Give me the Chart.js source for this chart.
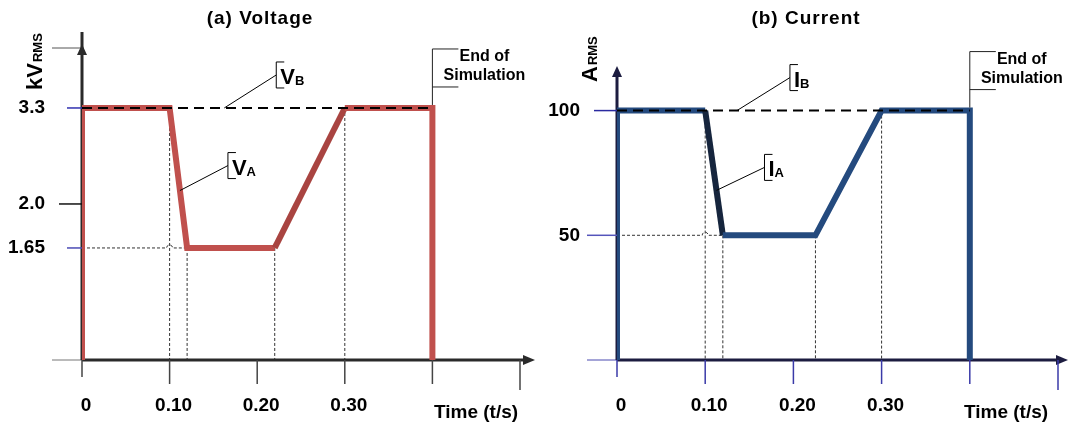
<!DOCTYPE html>
<html>
<head>
<meta charset="utf-8">
<script src="https://cdn.jsdelivr.net/npm/chart.js@4.4.1/dist/chart.umd.min.js"></script>
<style>
  html, body { margin: 0; padding: 0; background: #fff; }
  #wrap { position: relative; width: 1070px; height: 424px; overflow: hidden; }
  #wrap canvas { position: absolute; top: 0; }
</style>
</head>
<body>
<div id="wrap">
  <canvas id="cv" width="535" height="424" style="left:0"></canvas>
  <canvas id="ci" width="535" height="424" style="left:535px"></canvas>
</div>
<script>
// Sag profile: time breakpoints (s) and RMS levels
const voltageTime = [0, 0, 0.10, 0.12, 0.22, 0.30, 0.40, 0.40];
const voltageKV   = [0, 3.3, 3.3, 1.65, 1.65, 3.3, 3.3, 0];
const voltageBase = 3.3;

const currentTime = [0, 0, 0.10, 0.12, 0.225, 0.30, 0.40, 0.40];
const currentA    = [0, 100, 100, 50, 50, 100, 100, 0];
const currentBase = 100;

const timeTicks      = [0, 0.1, 0.2, 0.3, 0.4, 0.5];
const timeTickLabels = ['0', '0.10', '0.20', '0.30', '', ''];
const voltageTicks      = [1.65, 2.0, 3.3];
const voltageTickLabels = ['1.65', '2.0', '3.3'];
const currentTicks      = [50, 100];
const currentTickLabels = ['50', '100'];

const FONT = "'Liberation Sans', Arial, sans-serif";

// Linear scale with a piecewise (schematic) value warp
class WarpedScale extends Chart.LinearScale {
  _map(v, from, to) {
    const k = this.options.knots;
    if (!k || v === null || v === undefined) return v;
    let i = 1;
    while (i < k.length - 1 && v > k[i][from]) i++;
    const a = k[i - 1], b = k[i];
    return a[to] + (v - a[from]) * (b[to] - a[to]) / (b[from] - a[from]);
  }
  getPixelForValue(v, index) { return super.getPixelForValue(this._map(v, 0, 1), index); }
  getValueForPixel(p) { return this._map(super.getValueForPixel(p), 1, 0); }
}
WarpedScale.id = 'warped';
WarpedScale.defaults = Chart.LinearScale.defaults;
Chart.register(WarpedScale);

const zip = (xs, ys) => xs.map((x, i) => ({ x, y: ys[i] }));

function arrowHead(ctx, tipX, tipY, dir, len, half) {
  ctx.beginPath();
  if (dir === 'right') {
    ctx.moveTo(tipX, tipY); ctx.lineTo(tipX - len, tipY - half); ctx.lineTo(tipX - len, tipY + half);
  } else {
    ctx.moveTo(tipX, tipY); ctx.lineTo(tipX - half, tipY + len); ctx.lineTo(tipX + half, tipY + len);
  }
  ctx.closePath(); ctx.fill();
}

function lerpPt(meta, seg, f) {
  const a = meta.data[seg], b = meta.data[seg + 1];
  return { x: a.x + (b.x - a.x) * f, y: a.y + (b.y - a.y) * f };
}

function noPad(s) { s.paddingLeft = 0; s.paddingRight = 0; s.paddingTop = 0; s.paddingBottom = 0; }

const decor = {
  id: 'decor',
  beforeDatasetsDraw(chart, args, o) {
    const { ctx, scales: { x, y } } = chart;
    const x0 = x.getPixelForValue(0), y0 = y.getPixelForValue(0);
    const pts = chart.getDatasetMeta(0).data;
    ctx.save();

    // dashed guides from the profile corners
    ctx.strokeStyle = '#333'; ctx.lineWidth = 1; ctx.setLineDash([3, 2]);
    for (let i = 2; i <= 5; i++) {
      ctx.beginPath(); ctx.moveTo(pts[i].x, pts[i].y); ctx.lineTo(pts[i].x, y0); ctx.stroke();
    }
    const hy = pts[3].y, hopX = pts[2].x, r = 3;
    ctx.beginPath();
    ctx.moveTo(x0, hy); ctx.lineTo(hopX - r, hy);
    ctx.arc(hopX, hy, r, Math.PI, 0, false);
    ctx.lineTo(pts[3].x, hy);
    ctx.stroke();
    ctx.setLineDash([]);

    // x axis
    ctx.strokeStyle = o.thinColor; ctx.lineWidth = 1;
    ctx.beginPath(); ctx.moveTo(x0 - 30, y0); ctx.lineTo(x0, y0); ctx.stroke();
    ctx.strokeStyle = o.axisColor; ctx.fillStyle = o.axisColor; ctx.lineWidth = 3;
    ctx.beginPath(); ctx.moveTo(x0, y0); ctx.lineTo(o.xEnd - 8, y0); ctx.stroke();
    arrowHead(ctx, o.xEnd, y0, 'right', 12, 5);

    // x tick marks
    ctx.strokeStyle = o.tickColor; ctx.lineWidth = 1.5;
    timeTicks.forEach((t, i) => {
      const px = x.getPixelForValue(t);
      const len = i === 0 ? 17 : (i === timeTicks.length - 1 ? 30 : 24);
      ctx.beginPath(); ctx.moveTo(px, y0); ctx.lineTo(px, y0 + len); ctx.stroke();
    });

    // y axis
    ctx.strokeStyle = o.axisColor; ctx.fillStyle = o.axisColor; ctx.lineWidth = 3;
    ctx.beginPath(); ctx.moveTo(x0, y0); ctx.lineTo(x0, o.yLineTop); ctx.stroke();
    arrowHead(ctx, x0, o.yArrow, 'up', 11, 5);
    if (o.topMark) {
      ctx.strokeStyle = '#555'; ctx.lineWidth = 1;
      ctx.beginPath(); ctx.moveTo(x0 - 30, o.topMark); ctx.lineTo(x0 - 2, o.topMark); ctx.stroke();
    }

    // y tick marks
    o.yTickLen.forEach((len, i) => {
      const py = y.getPixelForValue(o.yTicks[i]);
      ctx.strokeStyle = o.yTickColor[i]; ctx.lineWidth = 1.5;
      ctx.beginPath(); ctx.moveTo(x0 - len, py); ctx.lineTo(x0, py); ctx.stroke();
    });
    ctx.restore();
  },
  afterDatasetsDraw(chart, args, o) {
    const { ctx } = chart;
    ctx.save();
    ctx.fillStyle = '#000'; ctx.strokeStyle = '#000'; ctx.lineWidth = 1;

    // labelled leaders
    o.callouts.forEach(c => {
      const p = lerpPt(chart.getDatasetMeta(c.ds), c.seg, c.f);
      const bx = p.x + c.dx, by = p.y + c.dy;
      ctx.beginPath();
      ctx.moveTo(p.x, p.y); ctx.lineTo(bx, by);
      ctx.moveTo(bx + 8, by - 13); ctx.lineTo(bx, by - 13); ctx.lineTo(bx, by + 13); ctx.lineTo(bx + 8, by + 13);
      ctx.stroke();
      ctx.textAlign = 'left'; ctx.textBaseline = 'alphabetic';
      ctx.font = 'bold 22px ' + FONT;
      ctx.fillText(c.main, bx + 4, by + 9);
      const w = ctx.measureText(c.main).width;
      ctx.font = 'bold 13px ' + FONT;
      ctx.fillText(c.sub, bx + 4 + w, by + 10);
    });

    // end-of-simulation note
    const e = chart.getDatasetMeta(0).data[o.endIndex];
    ctx.strokeStyle = '#222';
    ctx.beginPath();
    ctx.moveTo(e.x + 26, e.y - 59); ctx.lineTo(e.x, e.y - 59); ctx.lineTo(e.x, e.y - 3);
    ctx.moveTo(e.x, e.y - 21); ctx.lineTo(e.x + 26, e.y - 21);
    ctx.stroke();
    ctx.font = 'bold 16px ' + FONT; ctx.textAlign = 'center'; ctx.textBaseline = 'middle';
    ctx.fillText('End of', e.x + 52, e.y - 51);
    ctx.fillText('Simulation', e.x + 52, e.y - 32);

    // panel title
    ctx.font = 'bold 19px ' + FONT;
    ctx.letterSpacing = '1px';
    ctx.fillText(o.title, o.titleX, 19);
    ctx.letterSpacing = '0px';

    // axis titles
    ctx.textAlign = 'left'; ctx.textBaseline = 'alphabetic';
    ctx.font = 'bold 19px ' + FONT;
    ctx.fillText('Time (t/s)', o.xTitleX, 418);

    ctx.translate(o.yTitleX, o.yTitleY);
    ctx.rotate(-Math.PI / 2);
    ctx.font = 'bold 22px ' + FONT;
    ctx.fillText(o.yMain, 0, 0);
    const w = ctx.measureText(o.yMain).width;
    ctx.font = 'bold 13px ' + FONT;
    ctx.fillText('RMS', w + 1, 0);
    ctx.restore();
  }
};
Chart.register(decor);

function makeChart(id, cfg) {
  return new Chart(document.getElementById(id), {
    type: 'line',
    data: {
      datasets: [
        {
          data: zip(cfg.time, cfg.values),
          borderColor: cfg.color, borderWidth: 6,
          borderJoinStyle: 'miter', borderCapStyle: 'butt',
          pointRadius: 0, tension: 0, fill: false, order: 2,
          segment: { borderColor: s => s.p0DataIndex === cfg.darkSeg ? cfg.darkColor : cfg.color }
        },
        {
          data: [{ x: cfg.time[0], y: cfg.base }, { x: cfg.time[6], y: cfg.base }],
          borderColor: '#000', borderWidth: 2, borderDash: [10, 6],
          pointRadius: 0, fill: false, order: 1
        }
      ]
    },
    options: {
      responsive: false, animation: false, devicePixelRatio: 1,
      layout: { padding: { left: 0, right: cfg.padRight, top: 40, bottom: 0 } },
      plugins: {
        legend: { display: false }, tooltip: { enabled: false }, title: { display: false },
        decor: cfg.decor
      },
      scales: {
        x: {
          type: 'linear', min: 0, max: 0.5,
          afterFit: s => { s.height = 64; noPad(s); },
          afterBuildTicks: s => { s.ticks = timeTicks.map(v => ({ value: v })); },
          grid: { display: false, drawTicks: false }, border: { display: false },
          ticks: {
            autoSkip: false, maxRotation: 0, padding: 34, labelOffset: 4, color: '#000',
            font: { family: FONT, size: 19, weight: 'bold' },
            callback: (v, i) => timeTickLabels[i]
          }
        },
        y: {
          type: 'warped', min: 0, max: cfg.yMax, knots: cfg.knots,
          afterFit: s => { s.width = 82; noPad(s); },
          afterBuildTicks: s => { s.ticks = cfg.yTicks.map(v => ({ value: v })); },
          grid: { display: false, drawTicks: false }, border: { display: false },
          ticks: {
            padding: 37, color: '#000',
            font: { family: FONT, size: 19, weight: 'bold' },
            callback: (v, i) => cfg.yTickLabels[i]
          }
        }
      }
    }
  });
}

makeChart('cv', {
  time: voltageTime, values: voltageKV, base: voltageBase,
  color: '#C0504D', darkSeg: 4, darkColor: '#A94441', padRight: 15,
  yMax: 4.19, knots: [[0, 0], [1.65, 1.467], [2.0, 2.043], [3.3, 3.3], [10, 10]],
  yTicks: voltageTicks, yTickLabels: voltageTickLabels,
  decor: {
    axisColor: '#2a2a2a', thinColor: '#777', tickColor: '#444', xEnd: 535,
    yLineTop: 32, yArrow: 44, topMark: 48,
    yTicks: voltageTicks, yTickLen: [15, 23, 15], yTickColor: ['#4b4bb5', '#111', '#3030b0'],
    callouts: [
      { ds: 1, seg: 0, f: 0.406, dx: 52, dy: -33, main: 'V', sub: 'B' },
      { ds: 0, seg: 2, f: 0.59, dx: 48, dy: -25, main: 'V', sub: 'A' }
    ],
    endIndex: 6, title: '(a) Voltage', titleX: 260, xTitleX: 434,
    yMain: 'kV', yTitleX: 42, yTitleY: 90
  }
});

makeChart('ci', {
  time: currentTime, values: currentA, base: currentBase,
  color: '#244A7E', darkSeg: 2, darkColor: '#16253d', padRight: 12,
  yMax: 128.3, knots: null,
  yTicks: currentTicks, yTickLabels: currentTickLabels,
  decor: {
    axisColor: '#1c1c40', thinColor: '#4a4ab0', tickColor: '#3a3aa8', xEnd: 533,
    yLineTop: 72, yArrow: 66, topMark: null,
    yTicks: currentTicks, yTickLen: [30, 23], yTickColor: ['#5555bb', '#2a2aa0'],
    callouts: [
      { ds: 1, seg: 0, f: 0.34, dx: 53, dy: -33, main: 'I', sub: 'B' },
      { ds: 0, seg: 2, f: 0.64, dx: 48, dy: -23, main: 'I', sub: 'A' }
    ],
    endIndex: 6, title: '(b) Current', titleX: 271, xTitleX: 429,
    yMain: 'A', yTitleX: 62, yTitleY: 82
  }
});
</script>
</body>
</html>
